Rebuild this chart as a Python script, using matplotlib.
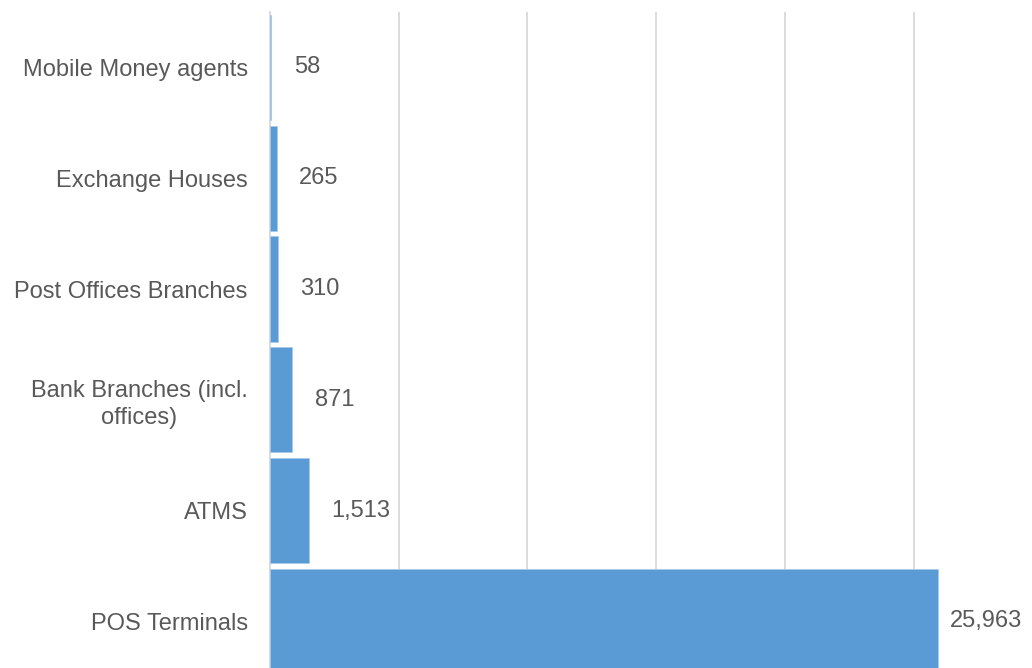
import numpy as np
import matplotlib.pyplot as plt

categories = ['Mobile Money agents', 'Exchange Houses', 'Post Offices Branches',
              'Bank Branches (incl.\noffices)', 'ATMS', 'POS Terminals']
values = [58, 265, 310, 871, 1513, 25963]

plt.rcParams['font.family'] = ['Liberation Sans', 'DejaVu Sans']

fig = plt.figure(figsize=(10.32, 6.68), dpi=100)
ax = fig.add_axes([270 / 1032, 0, 1 - 270 / 1032, 1 - 12 / 668])

y = np.arange(len(categories))
ax.barh(y, values, height=0.95, color='#5B9BD5', edgecolor='#a8c8e8', linewidth=0.5, zorder=3)

ax.set_xlim(0, 29600)
ax.set_ylim(5.42, -0.5)
ax.set_xticks([5000, 10000, 15000, 20000, 25000])
ax.xaxis.grid(True, color='#d9d9d9', linewidth=1.3, zorder=0)
ax.tick_params(axis='x', length=0, labelbottom=False)
ax.tick_params(axis='y', length=0, pad=16, labelsize=17, labelcolor='#595959')
ax.set_yticks(y)
ax.set_yticklabels(categories, multialignment='center', linespacing=1.3)
for s in ['top', 'right', 'bottom']:
    ax.spines[s].set_visible(False)
ax.spines['left'].set_color('#d9d9d9')
ax.spines['left'].set_linewidth(1.3)

for i, v in enumerate(values):
    off = 8 if i == len(values) - 1 else 16
    ax.annotate(f'{v:,}', (v, i), xytext=(off, 0), textcoords='offset points',
                va='center', ha='left', fontsize=17, color='#595959')

fig.savefig('out.png', dpi=100)
